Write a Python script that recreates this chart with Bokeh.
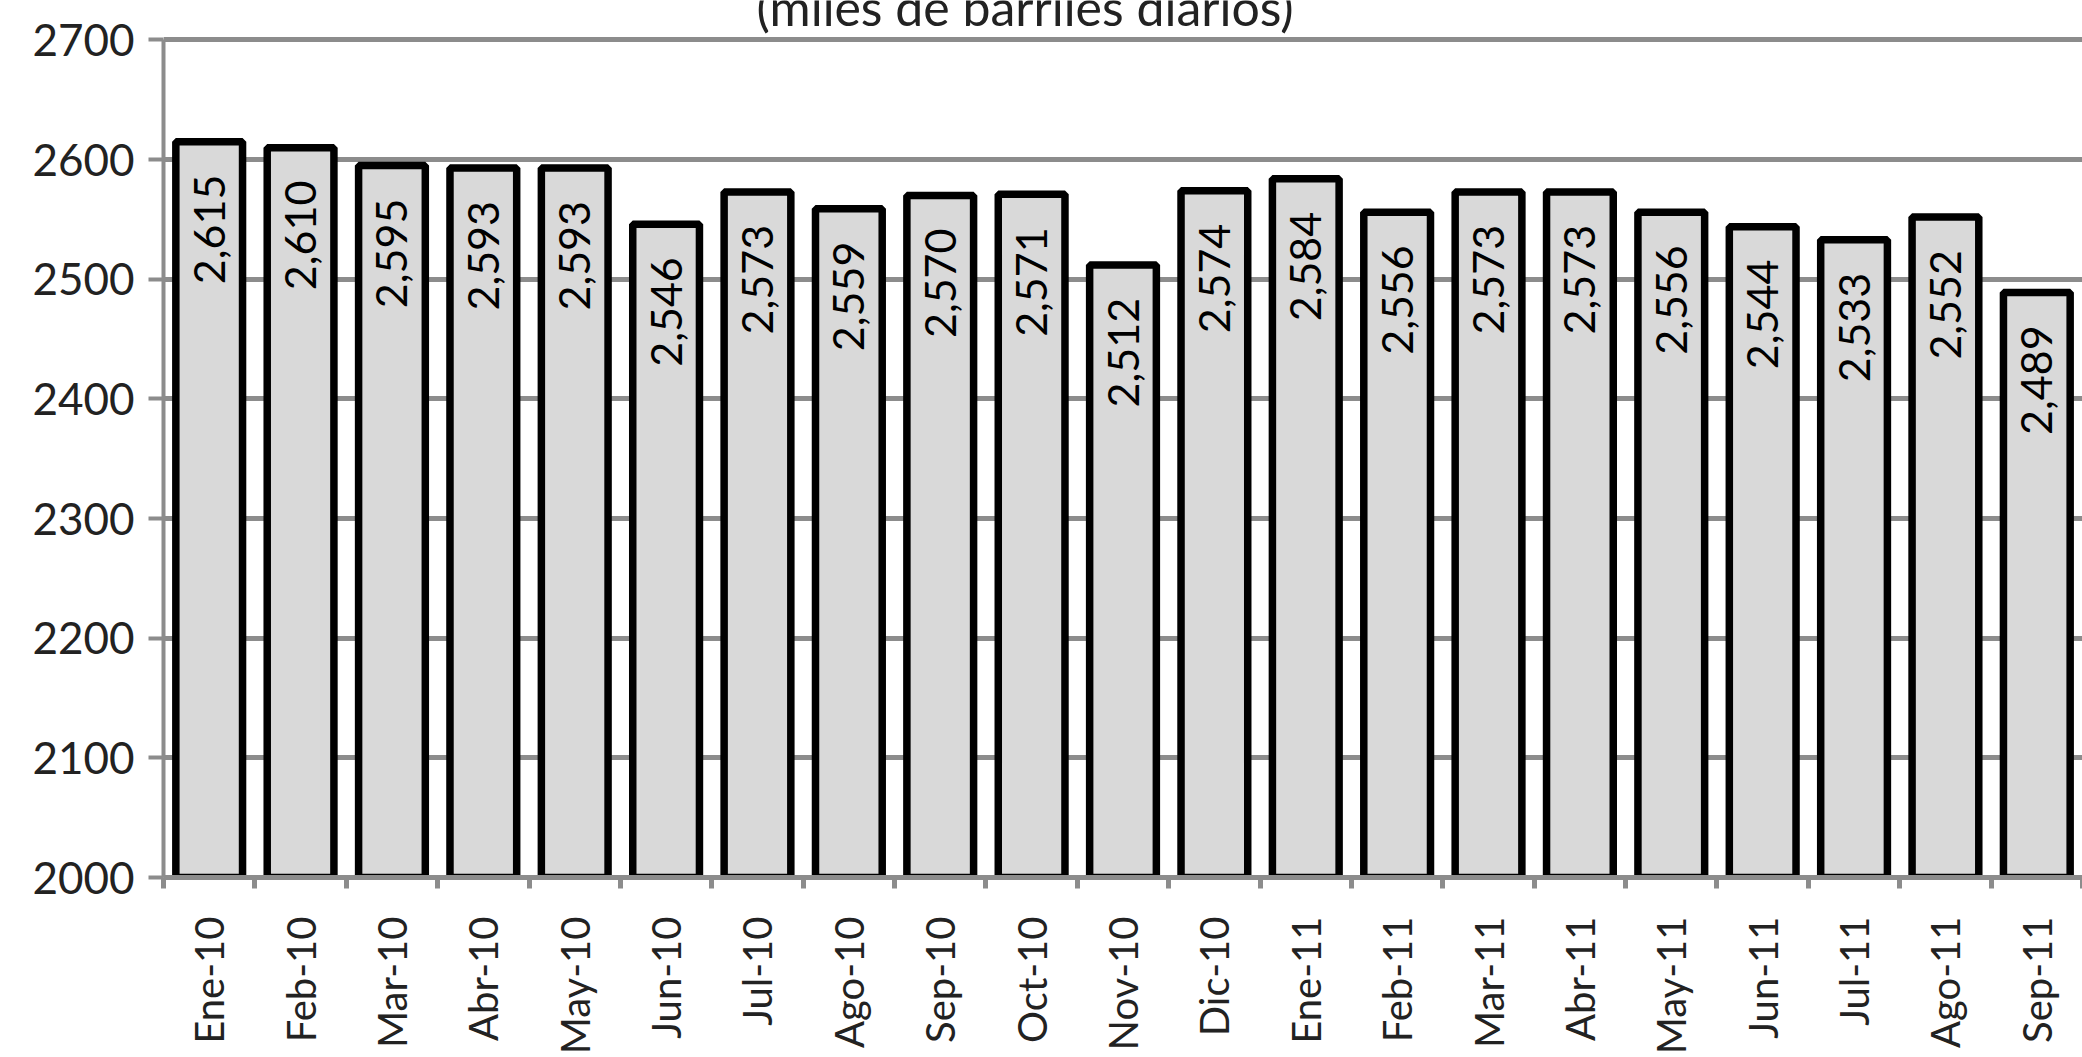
import math
from bokeh.plotting import figure
from bokeh.models import (ColumnDataSource, Range1d, LinearAxis, FixedTicker)
from bokeh.core.properties import value
from bokeh.embed import file_html
from bokeh.resources import INLINE

months = ["Ene-10", "Feb-10", "Mar-10", "Abr-10", "May-10", "Jun-10", "Jul-10", "Ago-10",
          "Sep-10", "Oct-10", "Nov-10", "Dic-10", "Ene-11", "Feb-11", "Mar-11", "Abr-11",
          "May-11", "Jun-11", "Jul-11", "Ago-11", "Sep-11"]
production = [2615, 2610, 2595, 2593, 2593, 2546, 2573, 2559, 2570, 2571, 2512, 2574,
              2584, 2556, 2573, 2573, 2556, 2544, 2533, 2552, 2489]
y_ticks = [2000, 2100, 2200, 2300, 2400, 2500, 2600, 2700]
title_text = "(miles de barriles diarios)"

FONT = "Lato"
GRID = "#8c8c8c"

n = len(months)
centers = [i + 0.5 for i in range(n)]
bounds = list(range(n + 1))

src = ColumnDataSource(dict(
    x=centers,
    val=production,
    base=[y_ticks[0]] * n,
    lbl=[f"{v:,}" for v in production],
))

# the chart's title sits just above the top gridline and is cut by the page edge
y_top = y_ticks[-1] + 33

p = figure(width=2082, height=1057, output_backend="svg", toolbar_location=None,
           x_range=Range1d(0, n), y_range=Range1d(y_ticks[0], y_top),
           x_axis_location=None, y_axis_location=None,
           min_border_left=163, min_border_right=0, min_border_top=0, min_border_bottom=170)
p.outline_line_color = None
p.background_fill_color = "white"
p.border_fill_color = "white"

# y axis
yax = LinearAxis(ticker=FixedTicker(ticks=y_ticks), bounds=(y_ticks[0], y_ticks[-1]))
yax.axis_line_color = GRID
yax.axis_line_width = 4
yax.major_tick_line_color = GRID
yax.major_tick_line_width = 4
yax.major_tick_out = 15
yax.major_tick_in = 0
yax.minor_tick_line_color = None
yax.major_label_text_font = FONT
yax.major_label_text_font_size = "44px"
yax.major_label_text_color = "#222222"
yax.major_label_standoff = 14
p.add_layout(yax, "left")

# x axis: labels at bar centres, tick marks between categories
xax = LinearAxis(ticker=FixedTicker(ticks=centers, minor_ticks=bounds),
                 major_label_overrides={c: m for c, m in zip(centers, months)})
xax.axis_line_color = GRID
xax.axis_line_width = 5
xax.major_tick_line_color = None
xax.major_tick_out = 0
xax.major_tick_in = 0
xax.minor_tick_line_color = GRID
xax.minor_tick_line_width = 5
xax.minor_tick_out = 11
xax.minor_tick_in = 0
xax.major_label_orientation = math.pi / 2
xax.major_label_text_font = FONT
xax.major_label_text_font_size = "40px"
xax.major_label_text_color = "#222222"
xax.major_label_standoff = 28
p.add_layout(xax, "below")

p.ygrid.ticker = FixedTicker(ticks=y_ticks)
p.ygrid.grid_line_color = GRID
p.ygrid.grid_line_width = 5
p.xgrid.grid_line_color = None

p.vbar(x="x", top="val", bottom="base", width=0.73, source=src,
       fill_color="#d9d9d9", line_color="black", line_width=7.5)

p.text(x="x", y="val", text="lbl", source=src, angle=math.pi / 2,
       text_align="right", text_baseline="middle", y_offset=33,
       text_font=value(FONT), text_font_size="43px", text_color="black")

p.text(x=[n * 0.449], y=[y_ticks[-1]], text=[title_text], y_offset=-33,
       text_align="center", text_baseline="alphabetic",
       text_font=value(FONT), text_font_size="50px", text_color="#222222")

open("out.html", "w").write(file_html(p, INLINE))
